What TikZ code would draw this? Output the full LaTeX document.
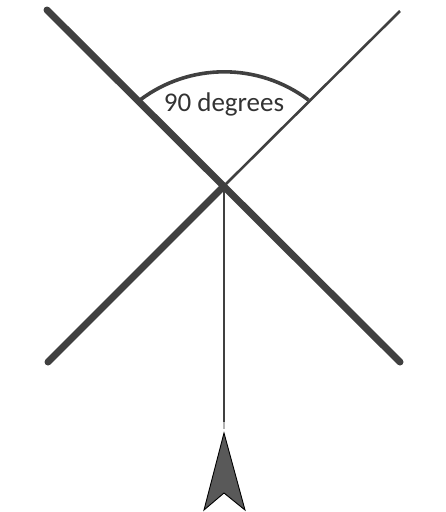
\documentclass[tikz,border=0pt]{standalone}
\usepackage{fontspec}
\setmainfont{Carlito}
\definecolor{linegray}{HTML}{404040}
\definecolor{txtgray}{HTML}{333333}
\definecolor{arrowfill}{HTML}{595959}
\tikzset{
  heavyline/.style={line width=7pt, line cap=round, draw=linegray},
  lightline/.style={line width=2.6pt, draw=linegray},
  stemline/.style={line width=2pt, draw=linegray},
  anglearc/.style={line width=3.6pt, draw=linegray},
  pointer/.style={fill=arrowfill, draw=black, line width=0.9pt, line join=miter},
  labeltext/.style={text=txtgray, font=\fontsize{27}{31}\selectfont, inner sep=0pt}
}
\begin{document}
\begin{tikzpicture}[x=1pt,y=-1pt]
\useasboundingbox (0,0) rectangle (446,512);
\coordinate (c) at (224,186);
\coordinate (nw) at (47,10);
\coordinate (se) at (400,362);
\coordinate (sw) at (48,362);
\coordinate (ne) at (400,11);
\coordinate (stemend) at (224,422);
\coordinate (stemfade) at (224,429);
\coordinate (arcL) at (140,100);
\draw[heavyline] (nw) -- (se);
\draw[heavyline] (sw) -- (c);
\draw[lightline] (c) -- (ne);
\draw[stemline] (c) -- (stemend);
\draw[stemline, draw=linegray!40] (stemend) -- (stemfade);
\draw[anglearc] (arcL) arc[start angle=-127, end angle=-53, radius=140];
\node[labeltext] (lbl) at (224,104) {90 degrees};
\coordinate (tip) at (224,433);
\coordinate (rb) at (245,510);
\coordinate (notch) at (224,493);
\coordinate (lb) at (204,510);
\draw[pointer] (tip) -- (rb) -- (notch) -- (lb) -- cycle;
\end{tikzpicture}
\end{document}
